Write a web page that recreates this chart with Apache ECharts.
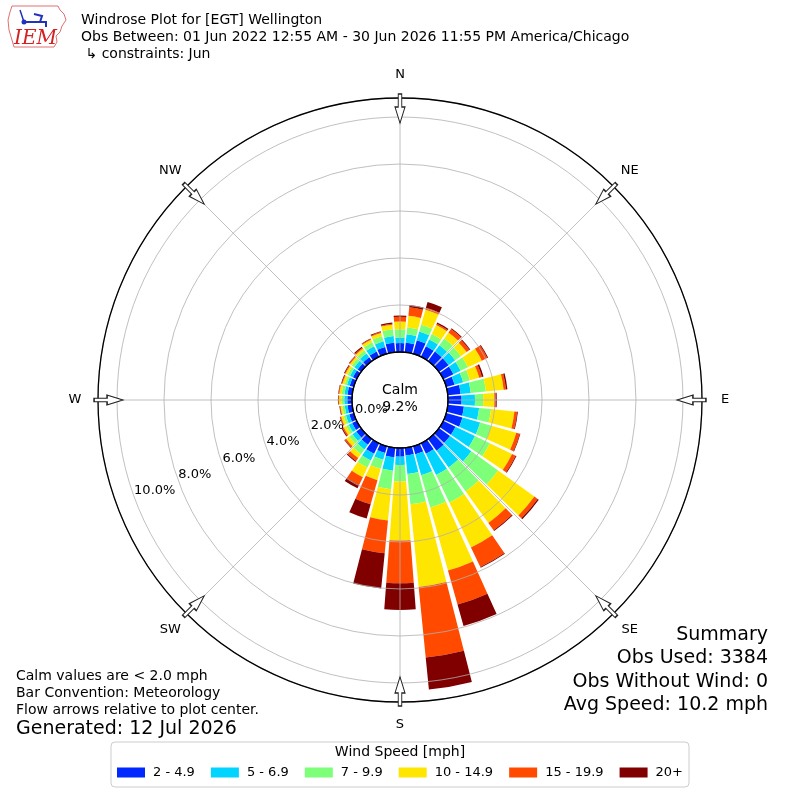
<!DOCTYPE html>
<html><head><meta charset="utf-8">
<script src="https://cdn.jsdelivr.net/npm/echarts@6/dist/echarts.min.js"></script>
<style>html,body{margin:0;padding:0;background:#fff}#c{width:800px;height:800px}</style>
</head><body><div id="c"></div>
<script>
// ---- data (percent of observations) ----
const directions = [0,10,20,30,40,50,60,70,80,90,100,110,120,130,140,150,160,170,180,190,200,210,220,230,240,250,260,270,280,290,300,310,320,330,340,350];
const speedBins = ['2 - 4.9','5 - 6.9','7 - 9.9','10 - 14.9','15 - 19.9','20+'];
const binColors = ['#0028ff','#00d4ff','#7dff7a','#ffe600','#ff4a00','#800000'];
const bin2to5   = [0.38,0.41,0.60,0.50,0.50,0.50,0.48,0.37,0.55,0.58,0.69,0.72,0.58,0.58,0.62,0.50,0.36,0.33,0.37,0.41,0.30,0.50,0.30,0.25,0.22,0.20,0.20,0.20,0.20,0.18,0.18,0.18,0.20,0.25,0.30,0.41];
const bin5to7   = [0.24,0.36,0.38,0.32,0.33,0.35,0.34,0.38,0.43,0.57,0.65,0.78,0.92,1.12,0.88,1.00,0.92,0.79,0.35,0.57,0.30,0.32,0.25,0.20,0.16,0.15,0.12,0.13,0.13,0.12,0.14,0.17,0.20,0.25,0.25,0.28];
const bin7to10  = [0.35,0.29,0.30,0.25,0.35,0.30,0.35,0.30,0.65,0.35,0.51,0.50,0.70,1.40,1.25,1.30,1.43,1.30,0.71,0.79,0.40,0.33,0.25,0.17,0.12,0.10,0.10,0.12,0.12,0.10,0.11,0.13,0.15,0.18,0.23,0.29];
const bin10to15 = [0.33,0.50,0.67,0.43,0.31,0.30,0.65,0.41,0.76,0.47,1.00,1.10,1.05,1.90,1.65,2.12,2.79,3.53,2.51,1.34,0.50,0.45,0.20,0.16,0.12,0.11,0.08,0.10,0.10,0.10,0.10,0.10,0.10,0.12,0.14,0.20];
const bin15to20 = [0.20,0.36,0.08,0.06,0.19,0.15,0.26,0.12,0.10,0.08,0.12,0.15,0.17,0.17,0.38,0.92,1.50,3.02,1.82,1.40,1.07,0.37,0.15,0.07,0.06,0.04,0.03,0.03,0.03,0.03,0.04,0.04,0.05,0.04,0.04,0.04];
const bin20plus = [0.05,0.10,0.26,0.06,0.04,0.04,0.04,0.07,0.06,0.03,0.03,0.03,0.04,0.06,0.04,0.04,0.95,1.37,1.13,1.51,0.63,0.16,0.05,0.03,0.04,0.02,0.02,0.02,0.02,0.03,0.03,0.02,0.05,0.02,0.04,0.05];
const binData = [bin2to5, bin5to7, bin7to10, bin10to15, bin15to20, bin20plus];
const radiusMax = 10.81;
const ringValues = [0,2,4,6,8,10];
const ringLabels = ['0.0%','2.0%','4.0%','6.0%','8.0%','10.0%'];
const ringLabelAngle = 250;
const compassNames = ['N','NE','E','SE','S','SW','W','NW'];
const compassAngles = [0,45,90,135,180,225,270,315];
const compassLabelGap = 23;
const arrowR = 10.36;
const calmText = 'Calm\n9.2%';
const titleLines = ['Windrose Plot for [EGT] Wellington','Obs Between: 01 Jun 2022 12:55 AM - 30 Jun 2026 11:55 PM America/Chicago',' \u21b3 constraints: Jun'];
const noteLines = ['Calm values are < 2.0 mph','Bar Convention: Meteorology','Flow arrows relative to plot center.'];
const generatedText = 'Generated: 12 Jul 2026';
const summaryLines = ['Summary','Obs Used: 3384','Obs Without Wind: 0','Avg Speed: 10.2 mph'];

const FONT = 'DejaVu Sans';
const chart = echarts.init(document.getElementById('c'), null, {renderer:'canvas'});

function txt(text, x, y, size, align, extra) {
  return Object.assign({type:'text', x:x, y:y, z:100, style:{text:text, fontSize:size, fontFamily:FONT, fill:'#000',
    align:align||'left', textAlign:align||'left', verticalAlign:'middle', textVerticalAlign:'middle'}}, extra||{});
}

const graphics = [];
titleLines.forEach((t,i)=>graphics.push(txt(t, 81, 20+i*17, 14)));
noteLines.forEach((t,i)=>graphics.push(txt(t, 16, 676+i*17, 14)));
graphics.push(txt(generatedText, 16, 729, 19));
summaryLines.forEach((t,i)=>graphics.push(txt(t, 768, 635+i*23.5, 19, 'right')));
graphics.push(txt('Wind Speed [mph]', 400, 752, 14, 'center'));
graphics.push({type:'text', x:400, y:399, z:100, style:{text:calmText, fontSize:14, fontFamily:FONT, fill:'#000', lineHeight:17,
  align:'center', textAlign:'center', verticalAlign:'middle', textVerticalAlign:'middle'}});
// logo
graphics.push({type:'polyline', z:100, shape:{points:[[12,6],[58,6],[60,10],[64,14],[66,20],[62,26],[60,32],[56,36],[57,42],[54,47],[14,47],[12,40],[9,30],[8,20],[10,12],[12,6]]},
  style:{stroke:'#e07070', lineWidth:1, fill:null}});
graphics.push({type:'polyline', z:100, shape:{points:[[22,22],[46,22],[46,27]]}, style:{stroke:'#2233bb', lineWidth:2, fill:null}});
graphics.push({type:'polyline', z:100, shape:{points:[[20,10],[24,22]]}, style:{stroke:'#2233bb', lineWidth:1.5, fill:null}});
graphics.push({type:'polyline', z:100, shape:{points:[[34,14],[42,16],[40,22]]}, style:{stroke:'#2233bb', lineWidth:2, fill:null}});
graphics.push({type:'circle', z:100, shape:{cx:24, cy:22, r:2.5}, style:{fill:'#2233bb'}});
graphics.push({type:'text', x:14, y:39, z:100, style:{text:'IEM', fontSize:20, fontFamily:'DejaVu Serif', fontStyle:'italic', fill:'#d42020',
  align:'left', textAlign:'left', verticalAlign:'middle', textVerticalAlign:'middle'}});

const hidden = {axisLine:{show:false}, axisTick:{show:false}, axisLabel:{show:false}, splitLine:{show:false}};
const grayLine = {color:'#b0b0b0', width:0.8};

const series = speedBins.map((name,i)=>({
  type:'bar', name:name, coordinateSystem:'polar', polarIndex:0, stack:'wind',
  data:binData[i], itemStyle:{color:binColors[i]}, barCategoryGap:'14%', silent:true, z:2
}));
series.push({
  type:'scatter', coordinateSystem:'polar', polarIndex:1, silent:true, z:20,
  data: ringValues.map(v=>[v, ringLabelAngle]), symbolSize:0, itemStyle:{color:'#000', opacity:1},
  label:{show:true, position:[0,0], formatter:p=>ringLabels[p.dataIndex], align:'left', verticalAlign:'bottom',
    fontSize:13, fontFamily:FONT, color:'#000', opacity:1}
});
series.push({
  type:'scatter', coordinateSystem:'polar', polarIndex:1, silent:true, z:20,
  data: compassAngles.map(a=>({value:[radiusMax, a], label:{offset:[compassLabelGap*Math.sin(a*Math.PI/180), -compassLabelGap*Math.cos(a*Math.PI/180)]}})),
  symbolSize:0, itemStyle:{color:'#000', opacity:1},
  label:{show:true, position:'inside', formatter:p=>compassNames[p.dataIndex], align:'center', verticalAlign:'middle',
    fontSize:13, fontFamily:FONT, color:'#000', opacity:1}
});
series.push({
  type:'scatter', coordinateSystem:'polar', polarIndex:1, silent:true, z:15,
  symbol:'path://M-3,0 L3,0 L3,13 L8.5,13 L0,29 L-8.5,13 L-3,13 Z', symbolSize:[17,29], symbolKeepAspect:true,
  data: compassAngles.map(a=>({value:[arrowR, a], symbolRotate:-a})),
  itemStyle:{color:'#ffffff', borderColor:'#222', borderWidth:1.2, opacity:1}
});

chart.setOption({
  animation:false,
  backgroundColor:'#fff',
  textStyle:{fontFamily:FONT},
  legend:{
    data:speedBins, selectedMode:false, left:'center', top:742, orient:'horizontal',
    icon:'rect', itemWidth:28, itemHeight:10, itemGap:16,
    textStyle:{fontSize:13, fontFamily:FONT, color:'#000', padding:[0,0,0,3]},
    padding:[24,6,8,6], borderColor:'#cccccc', borderWidth:1, borderRadius:4, backgroundColor:'#fff'
  },
  polar:[
    {center:[400,400], radius:[48,302]},
    {center:[400,400], radius:[48,302]},
    {center:[400,400], radius:[0,48]}
  ],
  angleAxis:[
    Object.assign({polarIndex:0, type:'category', data:directions.map(String), startAngle:95, clockwise:true, boundaryGap:true}, hidden),
    {polarIndex:1, type:'value', min:0, max:360, interval:45, startAngle:90, clockwise:true, z:10,
      axisLine:{show:true, lineStyle:{color:'#000', width:1.3}}, axisTick:{show:false}, axisLabel:{show:false},
      splitLine:{show:true, lineStyle:grayLine}},
    {polarIndex:2, type:'value', min:0, max:360, startAngle:90, z:10,
      axisLine:{show:true, lineStyle:{color:'#000', width:1.1}}, axisTick:{show:false}, axisLabel:{show:false}, splitLine:{show:false}}
  ],
  radiusAxis:[
    Object.assign({polarIndex:0, type:'value', min:0, max:radiusMax}, hidden),
    {polarIndex:1, type:'value', min:0, max:radiusMax, interval:2, z:10,
      axisLine:{show:false}, axisTick:{show:false}, axisLabel:{show:false}, splitLine:{show:true, lineStyle:grayLine}},
    Object.assign({polarIndex:2, type:'value', min:0, max:1}, hidden)
  ],
  series:series,
  graphic:graphics
});
</script></body></html>
